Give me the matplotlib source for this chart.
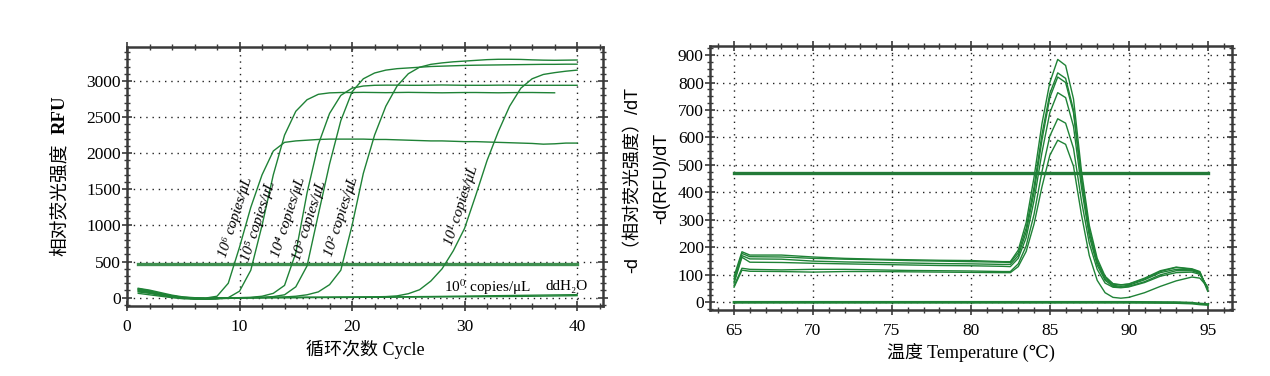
import matplotlib
matplotlib.use("Agg")
import matplotlib.pyplot as plt
from matplotlib.ticker import MultipleLocator

plt.rcParams['font.family'] = ['Liberation Serif', 'DejaVu Serif', 'Noto Sans CJK SC']
plt.rcParams['mathtext.fontset'] = 'stix'

# ====== amplification data (RFU per cycle) ======
cycles = list(range(1, 41))
amp_1e6 = [130, 105, 70, 35, 10, 0, -5, 20, 200, 700,
           1250, 1700, 2030, 2150, 2170, 2180, 2190, 2195, 2195, 2195,
           2195, 2190, 2190, 2185, 2180, 2175, 2170, 2170, 2165, 2160,
           2160, 2155, 2150, 2145, 2140, 2135, 2125, 2130, 2140, 2140]
amp_1e5 = [115, 90, 55, 25, 0, -15, -20, -15, 0, 90,
           380, 1000, 1700, 2250, 2580, 2740, 2815, 2835, 2840, 2840,
           2842, 2840, 2838, 2840, 2842, 2840, 2838, 2836, 2838, 2840,
           2840, 2838, 2836, 2838, 2840, 2840, 2838, 2836]
amp_1e4 = [90, 70, 40, 20, 5, -5, -10, -5, 0, 0,
           5, 20, 60, 170, 620, 1450, 2120, 2550, 2800, 2900,
           2930, 2940, 2942, 2942, 2940, 2940, 2942, 2944, 2942, 2940,
           2940, 2940, 2942, 2942, 2940, 2940, 2940, 2940, 2940, 2940]
amp_1e3 = [100, 75, 45, 20, 0, -10, -15, -10, -5, 0,
           0, 5, 15, 40, 150, 440, 1150, 1850, 2450, 2850,
           3030, 3110, 3150, 3170, 3180, 3190, 3200, 3205, 3210, 3215,
           3218, 3220, 3222, 3224, 3226, 3228, 3230, 3230, 3232, 3232]
amp_1e2 = [80, 60, 30, 10, -5, -15, -20, -15, -10, -5,
           0, 0, 5, 10, 20, 40, 80, 180, 380, 1000,
           1720, 2250, 2650, 2930, 3100, 3190, 3230, 3250, 3265, 3275,
           3285, 3295, 3300, 3300, 3298, 3292, 3288, 3286, 3288, 3290]
amp_1e1 = [60, 40, 20, 0, -15, -20, -15, -10, -5, -5,
           0, 2, 3, 2, 3, 5, 5, 6, 8, 8,
           10, 12, 15, 25, 55, 110, 230, 400, 650, 960,
           1420, 1900, 2300, 2650, 2900, 3030, 3090, 3115, 3135, 3150]
amp_1e0 = [110, 85, 50, 25, 5, -5, -5, 0, 0, 0,
           0, 0, 2, 3, 3, 4, 5, 5, 6, 7,
           8, 9, 10, 12, 13, 15, 16, 18, 20, 22,
           24, 26, 28, 30, 32, 34, 36, 38, 40, 42]
amp_h2o = [125, 95, 55, 25, 0, -15, -15, -10, -5, 0,
           0, 0, 0, 1, 1, 2, 2, 3, 3, 4,
           5, 5, 6, 7, 8, 9, 10, 11, 12, 13,
           14, 15, 16, 17, 18, 20, 22, 24, 26, 28]
amp_threshold = 470
amp_labels = ["10⁶ copies/μL", "10⁵ copies/μL", "10⁴ copies/μL",
              "10³ copies/μL", "10² copies/μL", "10¹ copies/μL"]
amp_label_x = [9.66, 11.67, 14.34, 16.2, 19.1, 29.7]
amp_label_y = [1112, 1065, 1112, 1065, 1120, 1273]

# ====== melt data -d(RFU)/dT ======
melt_temp = [65, 65.5, 66, 68, 70, 72, 74, 76, 78, 80, 82, 82.5,
             83, 83.5, 84, 84.5, 85, 85.5, 86, 86.5, 87, 87.5, 88, 88.5, 89,
             89.5, 90, 91, 92, 93, 94, 94.5, 95]
melt_c1 = [95, 184, 172, 172, 165, 160, 157, 155, 153, 152, 148, 148,
           190, 290, 455, 650, 800, 884, 862, 740, 480, 280, 160, 95, 68,
           64, 66, 85, 112, 127, 120, 110, 40]
melt_c2 = [85, 178, 166, 165, 160, 157, 155, 152, 150, 148, 146, 145,
           180, 270, 420, 610, 760, 835, 815, 700, 455, 265, 150, 90, 66,
           63, 67, 88, 115, 128, 122, 112, 45]
melt_c3 = [75, 170, 158, 157, 150, 147, 145, 143, 141, 140, 138, 138,
           170, 255, 400, 590, 745, 820, 800, 690, 445, 255, 145, 85, 62,
           58, 62, 82, 108, 120, 118, 108, 48]
melt_c4 = [70, 164, 146, 145, 142, 140, 138, 136, 134, 133, 131, 130,
           160, 235, 370, 545, 690, 763, 745, 640, 420, 240, 135, 80, 58,
           55, 58, 75, 100, 115, 115, 105, 50]
melt_c5 = [60, 124, 120, 118, 120, 120, 118, 116, 115, 114, 112, 112,
           140, 205, 320, 475, 605, 668, 652, 560, 370, 215, 120, 70, 55,
           53, 56, 72, 95, 108, 110, 102, 55]
melt_c6 = [55, 117, 113, 112, 110, 112, 112, 111, 110, 109, 108, 108,
           130, 185, 285, 420, 535, 590, 575, 495, 320, 170, 80, 35, 18,
           15, 18, 35, 58, 78, 92, 88, 55]
neg_temp = [65, 70, 75, 80, 85, 90, 93, 94, 94.5, 95]
neg_melt = [0, 0, 0, 0, 0, 0, -1, -3, -6, -8]
melt_threshold = 470

GREEN = '#1f8236'
GRID_LS = (0, (1, 3.5))


def style_axes(ax):
    for s in ax.spines.values():
        s.set_linewidth(1.8)
        s.set_color('#3a3a3a')
    ax.tick_params(which='both', direction='inout', top=True, right=True,
                   color='#3a3a3a', labelsize=12.5)
    ax.tick_params(which='major', length=7, width=1.2)
    ax.tick_params(which='minor', length=5, width=1.0)
    ax.tick_params(axis='y', pad=1)
    ax.tick_params(axis='x', pad=6)
    ax.grid(True, which='major', color='#222222', linestyle=GRID_LS, linewidth=1.0)
    ax.set_axisbelow(True)


fig = plt.figure(figsize=(12.7, 3.76), dpi=100)

# ====== left: amplification ======
ax1 = fig.add_axes([0.1, 0.1862, 0.3748, 0.6888])
style_axes(ax1)
ax1.plot([cycles[0], cycles[-1]], [amp_threshold, amp_threshold], color='#3f8f50', lw=2.4)
for ys in [amp_1e6, amp_1e5, amp_1e4, amp_1e3, amp_1e2, amp_1e1, amp_1e0, amp_h2o]:
    ax1.plot(cycles[:len(ys)], ys, color=GREEN, lw=1.0)
ax1.set_xlim(0, 42.3)
ax1.set_ylim(-115, 3470)
ax1.xaxis.set_major_locator(MultipleLocator(10))
ax1.xaxis.set_minor_locator(MultipleLocator(2))
ax1.yaxis.set_major_locator(MultipleLocator(500))
ax1.yaxis.set_minor_locator(MultipleLocator(100))

for lab, x, y in zip(amp_labels, amp_label_x, amp_label_y):
    ax1.text(x, y, lab, rotation=72, rotation_mode='anchor', ha='center', va='center',
             fontsize=11, style='italic')
ax1.text(32, 152, r"10$^{0}$ copies/μL", ha='center', va='center', fontsize=11)
ax1.text(39.1, 152, "ddH₂O", ha='center', va='center', fontsize=11)

ax1.set_xlabel("循环次数 Cycle", fontsize=13, labelpad=3)
fig.text(60 / 1270, 1 - 115 / 376, "RFU", rotation=90, ha='center', va='center',
         fontsize=13.5, fontweight='bold')
fig.text(60 / 1270, 1 - 200 / 376, "相对荧光强度", rotation=90, ha='center', va='center',
         fontsize=13.5)

# ====== right: melt curve ======
ax2 = fig.add_axes([0.5591, 0.1755, 0.411, 0.703])
style_axes(ax2)
ax2.plot([melt_temp[0], melt_temp[-1]], [melt_threshold, melt_threshold], color='#237a38', lw=2.4)
ax2.plot(neg_temp, neg_melt, color=GREEN, lw=2.0)
for ys in [melt_c1, melt_c2, melt_c3, melt_c4, melt_c5, melt_c6]:
    ax2.plot(melt_temp, ys, color=GREEN, lw=1.0)
ax2.set_xlim(63.48, 96.54)
ax2.set_ylim(-28, 934)
ax2.xaxis.set_major_locator(MultipleLocator(5))
ax2.xaxis.set_minor_locator(MultipleLocator(1))
ax2.yaxis.set_major_locator(MultipleLocator(100))
ax2.yaxis.set_minor_locator(MultipleLocator(25))
ax2.set_xlabel("温度 Temperature (℃)", fontsize=13, labelpad=3)

sans = ['Liberation Sans', 'Noto Sans CJK SC']
fig.text(633 / 1270, 1 - 180 / 376, "-d（相对荧光强度）/dT", rotation=90, ha='center',
         va='center', fontsize=13, family=sans)
fig.text(662 / 1270, 1 - 178 / 376, "-d(RFU)/dT", rotation=90, ha='center',
         va='center', fontsize=13, family=sans)

fig.savefig("out.png", dpi=100)
